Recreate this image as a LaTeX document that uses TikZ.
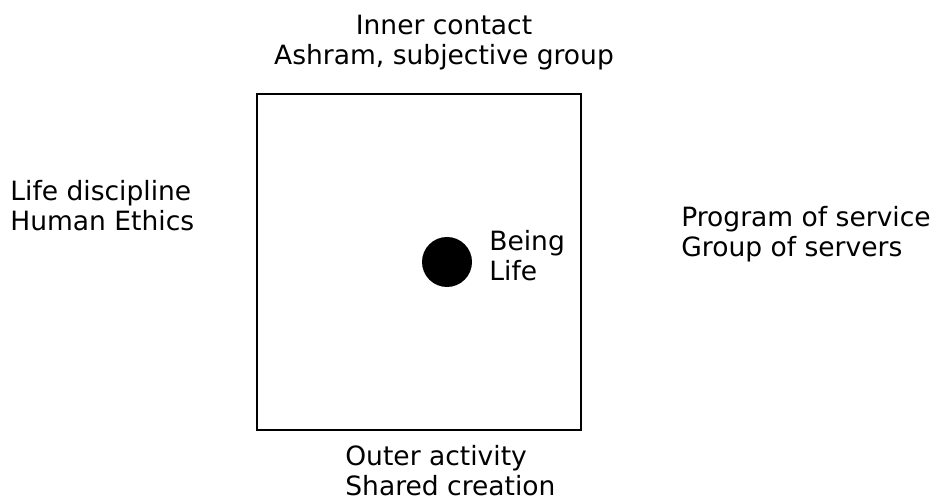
\documentclass[tikz,border=0pt]{standalone}
\usepackage{fontspec}
\setmainfont{DejaVu Sans}
\usetikzlibrary{positioning}

\begin{document}
\begin{tikzpicture}[x=0.02cm, y=-0.02cm,
  every node/.style={font=\fontsize{15.1}{17}\selectfont, inner sep=0pt},
  label text/.style={align=left, anchor=north west}]
  % cadre fixe
  \useasboundingbox (0,0) rectangle (937,502);

  % Carre central
  \draw[line width=1.3pt] (257,94) rectangle (581,430);

  % Point central (being)
  \fill (447,262) circle (25);
  \node[label text] (being) at (489,230) {Being\\Life};

  % Les quatre cotes
  \node[align=center, anchor=north] (inner) at (444,15) {Inner contact\\Ashram, subjective group};
  \node[label text] (outer) at (345,445) {Outer activity\\Shared creation};
  \node[label text] (ethics) at (10,180) {Life discipline\\Human Ethics};
  \node[label text] (service) at (681,206) {Program of service\\Group of servers};
\end{tikzpicture}
\end{document}
